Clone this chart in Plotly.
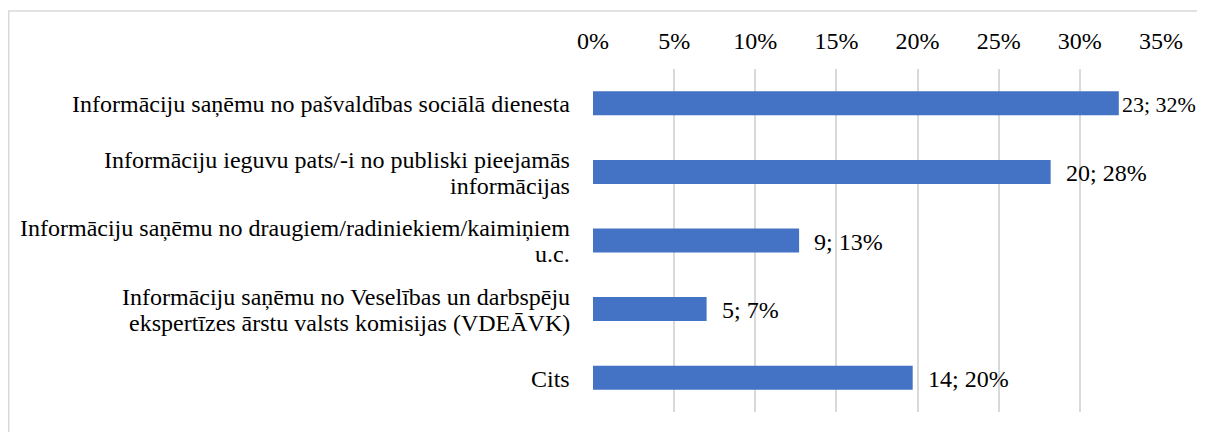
import plotly.graph_objects as go

categories = [
    "Informāciju saņēmu no pašvaldības sociālā dienesta",
    "Informāciju ieguvu pats/-i no publiski pieejamās\ninformācijas",
    "Informāciju saņēmu no draugiem/radiniekiem/kaimiņiem\nu.c.",
    "Informāciju saņēmu no Veselības un darbspēju\nekspertīzes ārstu valsts komisijas (VDEĀVK)",
    "Cits",
]
counts = [23, 20, 9, 5, 14]
shares = [0.324, 0.282, 0.127, 0.070, 0.197]
label_pcts = ["32%", "28%", "13%", "7%", "20%"]
tick_vals = [0, 0.05, 0.10, 0.15, 0.20, 0.25, 0.30, 0.35]
tick_text = ["0%", "5%", "10%", "15%", "20%", "25%", "30%", "35%"]

labels = [f"{c}; {p}" for c, p in zip(counts, label_pcts)]

FONT = "Liberation Serif"
FS = 24
OFF = 8  # page body margin

W, H = 1205 - 2 * OFF, 432 - OFF
L, T, B = 593 - OFF, 69 - OFF, 20
PW = 568
R = W - L - PW
ph = H - T - B

fig = go.Figure(
    go.Bar(
        x=shares,
        y=categories,
        orientation="h",
        width=0.35,
        marker=dict(color="#4472C4", line=dict(width=0)),
        hoverinfo="x+y",
    )
)

annotations = []
LINE = 25.5
for cat in categories:
    lines = cat.split("\n")
    n = len(lines)
    for i, ln in enumerate(lines):
        shift = ((n - 1) / 2 - i) * LINE - 1
        annotations.append(dict(
            x=0, xref="paper", y=cat, yref="y",
            text=ln, showarrow=False,
            xanchor="right", yanchor="middle", xshift=-21, yshift=shift,
            font=dict(family=FONT, size=FS, color="#000000"),
        ))

for i, (cat, v, lab) in enumerate(zip(categories, shares, labels)):
    near_edge = i == 0
    annotations.append(dict(
        x=v, xref="x", y=cat, yref="y",
        text=lab, showarrow=False,
        xanchor="left", yanchor="middle",
        xshift=1 if near_edge else 13, yshift=-1,
        font=dict(family=FONT, size=22 if near_edge else FS, color="#000000"),
    ))

fig.update_layout(
    width=W,
    height=H,
    margin=dict(l=L, r=R, t=T, b=B),
    paper_bgcolor="white",
    plot_bgcolor="white",
    showlegend=False,
    font=dict(family=FONT, size=FS, color="#000000"),
    xaxis=dict(
        side="top",
        range=[0, 0.35],
        tickvals=tick_vals,
        ticktext=tick_text,
        showgrid=True,
        gridcolor="#D9D9D9",
        gridwidth=1.5,
        zeroline=False,
        showline=False,
        ticks="",
        ticklabelstandoff=14,
        tickfont=dict(family=FONT, size=FS, color="#000000"),
    ),
    yaxis=dict(
        categoryorder="array",
        categoryarray=categories[::-1],
        autorange=False,
        range=[-0.5, 4.5],
        showgrid=False,
        zeroline=False,
        showline=False,
        showticklabels=False,
        ticks="",
    ),
    annotations=annotations,
    shapes=[
        dict(
            type="rect",
            xref="paper",
            yref="paper",
            x0=(0.75 - L) / PW,
            x1=(1215 - OFF - L) / PW,
            y0=(H - B - 445) / ph,
            y1=(H - B - (11 - OFF)) / ph,
            line=dict(color="#D9D9D9", width=1.5),
            fillcolor="rgba(0,0,0,0)",
            layer="below",
        )
    ],
)

fig.write_html("out.html")
